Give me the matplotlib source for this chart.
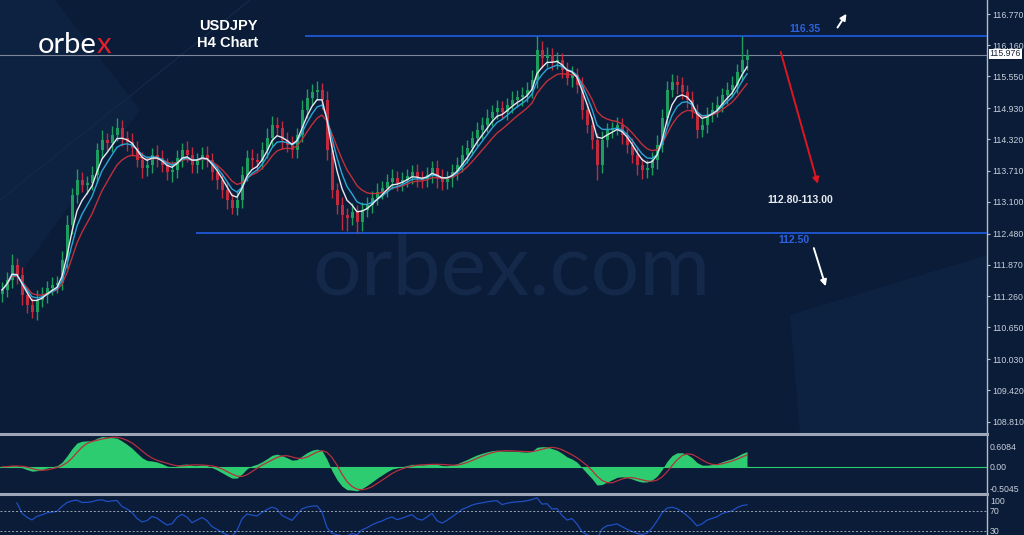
import matplotlib
matplotlib.use("Agg")
import matplotlib.pyplot as plt
from matplotlib.patches import Polygon
import numpy as np
import pandas as pd

# USDJPY H4 closes (one value every ~5 px)
closes = [111.38,111.57,111.87,111.67,111.28,111.09,110.95,111.18,111.28,111.42,
          111.48,111.52,111.97,112.65,113.23,113.53,113.43,113.47,113.63,114.11,
          114.31,114.25,114.41,114.54,114.35,114.27,114.15,113.92,113.76,113.82,
          114.02,113.96,113.82,113.68,113.72,113.96,114.11,114.02,113.82,113.92,
          114.02,113.92,113.68,113.53,113.33,113.14,112.98,113.14,113.63,113.96,
          113.92,113.88,114.11,114.35,114.60,114.54,114.31,114.21,114.11,114.41,
          114.90,115.13,115.25,115.29,115.09,114.11,113.33,113.04,112.84,112.79,
          112.90,112.71,112.94,113.04,113.18,113.29,113.37,113.49,113.57,113.47,
          113.53,113.61,113.68,113.57,113.53,113.63,113.76,113.57,113.49,113.57,
          113.68,113.82,114.02,114.15,114.35,114.50,114.60,114.74,114.86,114.93,
          114.86,114.99,115.09,115.15,115.19,115.29,115.48,116.07,115.91,115.97,
          115.83,115.87,115.68,115.52,115.58,115.38,114.90,114.60,114.31,113.82,
          114.31,114.50,114.54,114.60,114.41,114.21,114.02,113.82,113.72,113.76,
          113.92,114.21,114.74,115.29,115.44,115.38,115.25,115.09,114.86,114.50,
          114.60,114.80,114.90,114.99,115.19,115.29,115.38,115.64,115.87,115.97]
first_open = 111.30

wick_up = [0.15,0.17,0.21,0.13,0.16,0.12,0.14,0.19,0.15,0.13,
           0.16,0.14,0.17,0.19,0.15,0.22,0.16,0.14,0.18,0.15,
           0.20,0.13,0.17,0.19,0.16,0.14,0.18,0.13,0.15,0.17,
           0.14,0.19,0.15,0.13,0.17,0.16,0.14,0.18,0.15,0.13,
           0.16,0.17,0.14,0.15,0.13,0.16,0.14,0.19,0.17,0.15,
           0.18,0.13,0.16,0.20,0.17,0.15,0.14,0.16,0.18,0.13,
           0.19,0.17,0.15,0.18,0.14,0.17,0.16,0.13,0.15,0.14,
           0.17,0.13,0.16,0.15,0.14,0.18,0.13,0.15,0.17,0.14,
           0.16,0.13,0.15,0.17,0.14,0.16,0.13,0.15,0.18,0.14,
           0.17,0.15,0.19,0.16,0.14,0.17,0.15,0.18,0.13,0.16,
           0.15,0.14,0.17,0.13,0.16,0.15,0.19,0.28,0.17,0.15,
           0.14,0.16,0.13,0.15,0.17,0.14,0.16,0.13,0.15,0.14,
           0.17,0.15,0.13,0.16,0.14,0.15,0.13,0.17,0.14,0.15,
           0.16,0.19,0.17,0.18,0.15,0.14,0.16,0.13,0.17,0.15,
           0.14,0.16,0.15,0.17,0.14,0.16,0.18,0.15,0.48,0.12]

wick_dn = [0.16,0.14,0.15,0.17,0.19,0.16,0.12,0.15,0.14,0.16,
           0.13,0.15,0.14,0.16,0.18,0.15,0.14,0.17,0.13,0.16,
           0.15,0.14,0.17,0.13,0.16,0.18,0.15,0.14,0.19,0.16,
           0.15,0.17,0.14,0.16,0.19,0.15,0.17,0.14,0.16,0.15,
           0.17,0.14,0.16,0.18,0.15,0.17,0.12,0.14,0.16,0.13,
           0.15,0.17,0.14,0.16,0.15,0.13,0.17,0.14,0.16,0.15,
           0.14,0.16,0.13,0.15,0.17,0.19,0.15,0.17,0.29,0.26,
           0.15,0.21,0.17,0.14,0.16,0.15,0.13,0.17,0.14,0.16,
           0.15,0.14,0.16,0.17,0.15,0.13,0.16,0.19,0.15,0.14,
           0.17,0.15,0.13,0.16,0.14,0.15,0.17,0.13,0.16,0.15,
           0.14,0.16,0.15,0.13,0.17,0.14,0.16,0.15,0.19,0.17,
           0.15,0.13,0.16,0.14,0.17,0.15,0.19,0.16,0.17,0.30,
           0.15,0.14,0.16,0.13,0.17,0.15,0.16,0.20,0.18,0.15,
           0.14,0.17,0.13,0.16,0.15,0.17,0.14,0.16,0.13,0.15,
           0.14,0.16,0.13,0.15,0.14,0.17,0.15,0.16,0.17,0.19]

price_ticks = [116.770,116.160,115.550,114.930,114.320,113.710,113.100,
               112.480,111.870,111.260,110.650,110.030,109.420,108.810]
resistance = 116.35
support = 112.50
last_price = 115.976
macd_labels = ["0.6084", "0.00", "-0.5045"]
rsi_levels = [70, 30]

BG = "#0a1c38"
LBL = "#c8cfda"
W, H = 1024, 535
PX = 5.0  # pixels per candle

df = pd.DataFrame({"close": closes})
df["open"] = df["close"].shift(1).fillna(first_open)
df["high"] = df[["open", "close"]].max(axis=1) + np.array(wick_up)
df["low"] = df[["open", "close"]].min(axis=1) - np.array(wick_dn)
x = np.arange(len(df))

fig = plt.figure(figsize=(W / 100, H / 100), dpi=100, facecolor=BG)

# faint background shapes
bg = fig.add_axes([0, 0, 1, 1], zorder=-5)
bg.set_xlim(0, W); bg.set_ylim(H, 0); bg.axis("off")
bg.add_patch(Polygon([(0, 0), (55, 0), (140, 110), (15, 280), (0, 280)], closed=True,
                     fc="#0d2140", ec="none"))
bg.add_patch(Polygon([(790, 315), (987, 255), (987, 433), (800, 433)], closed=True,
                     fc="#0d2141", ec="none"))
bg.plot([0, 250], [200, 0], color="#12274a", lw=1.0)

# main price panel
ax = fig.add_axes([0, 1 - 433 / H, 987 / W, 433 / H], facecolor="none")
ax.set_xlim(-2 / PX, 987 / PX - 2 / PX)
ax.set_ylim(116.77 - 419 / 51.2, 116.77 + 14 / 51.2)

ax.text(102, 111.77, "orbex.com", color="#14284a", fontsize=62, family="Lato",
        ha="center", va="center", zorder=0)

up = df["close"] >= df["open"]
colors = np.where(up, "#1e9e5e", "#c42a3d")
ax.vlines(x, df["low"], df["high"], colors=colors, lw=1.0, zorder=2)
ax.bar(x, (df["close"] - df["open"]).abs().clip(lower=0.03),
       bottom=df[["open", "close"]].min(axis=1), width=0.6, color=colors, zorder=2)

ma_fast = df["close"].ewm(span=4).mean()
ma_mid = df["close"].ewm(span=6).mean()
ma_slow = df["close"].ewm(span=10).mean()
ax.plot(x, ma_slow, color="#c0303a", lw=1.0, zorder=3)
ax.plot(x, ma_mid, color="#2aa6d6", lw=1.0, zorder=3)
ax.plot(x, ma_fast, color="#e6e9f0", lw=1.0, zorder=4)

ax.axhline(last_price, color="#7e889a", lw=0.8, zorder=1)
ax.hlines(resistance, 303 / PX, 987 / PX, color="#2057d6", lw=1.3, zorder=1)
ax.hlines(support, 194 / PX, 987 / PX, color="#2057d6", lw=1.3, zorder=1)

ax.text(160.5, 116.47, "116.35", color="#2c62e0", fontsize=7.5, fontweight="bold",
        ha="center", va="center", family="Liberation Sans")
ax.text(158.3, 112.35, "112.50", color="#2c62e0", fontsize=7.5, fontweight="bold",
        ha="center", va="center", family="Liberation Sans")
ax.text(159.6, 113.14, "112.80-113.00", color="#e8ebf0", fontsize=7.5, fontweight="bold",
        ha="center", va="center", family="Liberation Sans")

arrow = dict(arrowstyle="-|>", lw=1.4, mutation_scale=9)
ax.annotate("", xy=(169.2, 116.82), xytext=(166.8, 116.46),
            arrowprops=dict(arrow, color="white"))
ax.annotate("", xy=(163.3, 113.40), xytext=(155.6, 116.08),
            arrowprops=dict(arrow, color="#e0161e"))
ax.annotate("", xy=(164.9, 111.40), xytext=(162.2, 112.25),
            arrowprops=dict(arrow, color="white"))

ax.yaxis.tick_right()
ax.set_yticks(price_ticks)
ax.set_yticklabels([f"{t:.3f}" for t in price_ticks], family="Liberation Sans")
ax.tick_params(axis="y", colors="#b8c0cc", labelcolor=LBL, labelsize=6.3,
               length=2, pad=1.5)
ax.set_xticks([])
for s in ax.spines.values():
    s.set_visible(False)

# MACD panel
macd = df["close"].ewm(span=6).mean() - df["close"].ewm(span=13).mean()
signal = macd.rolling(4, min_periods=1).mean()
ax2 = fig.add_axes([0, 1 - 492 / H, 987 / W, 57 / H], facecolor="none")
ax2.set_xlim(ax.get_xlim())
lo, hi = macd.min(), macd.max()
ax2.set_ylim(lo * 1.05, hi * 1.05)
ax2.fill_between(x, 0, macd, color="#2ecc71", lw=0)
ax2.axhline(0, color="#2ecc71", lw=0.8)
ax2.plot(x, signal, color="#b5303c", lw=0.9)
ax2.axis("off")

# RSI panel (bottom part is cut off as in the screenshot)
delta = df["close"].diff()
gain = delta.clip(lower=0).ewm(alpha=1 / 7, adjust=False).mean()
loss = (-delta.clip(upper=0)).ewm(alpha=1 / 7, adjust=False).mean()
rsi = 100 - 100 / (1 + gain / loss.replace(0, np.nan))
ax3 = fig.add_axes([0, 1 - 546 / H, 987 / W, 50 / H], facecolor="none")
ax3.set_xlim(ax.get_xlim())
ax3.set_ylim(0, 100)
ax3.plot(x, rsi, color="#1f4fc4", lw=0.9)
for lvl in rsi_levels:
    ax3.axhline(lvl, color="#9aa4b4", lw=0.7, ls=(0, (2, 2)))
ax3.axis("off")

# frame lines on the figure
bg.plot([987, 987], [0, H], color="#b4bcc8", lw=1.0)
bg.plot([0, 987], [434, 434], color="#9ea7b7", lw=2.2)
bg.plot([0, 987], [494, 494], color="#9ea7b7", lw=2.2)

def ftext(px, py, s, **kw):
    return fig.text(px / W, 1 - py / H, s, **kw)

for py, s in zip([447, 467, 489], macd_labels):
    ftext(990, py, s, color=LBL, fontsize=6.3, va="center", family="Liberation Sans")
for py, s in zip([501, 511, 531], ["100", "70", "30"]):
    ftext(990, py, s, color=LBL, fontsize=6.3, va="center", family="Liberation Sans")
ftext(989.5, 54, f"{last_price:.3f}", color="#1a2538", fontsize=6.3, va="center",
      family="Liberation Sans", bbox=dict(fc="white", ec="none", pad=0.5))

# logo and title
logo = ftext(38, 53, "orbe", color="white", fontsize=21, family="Lato", va="baseline")
r = fig.canvas.get_renderer()
bb = logo.get_window_extent(renderer=r)
fig.text(bb.x1 / (W * fig.dpi / 100), 1 - 53 / H, "x", color="#e3202f", fontsize=21,
         family="Lato", va="baseline")
ftext(228, 26, "USDJPY", color="white", fontsize=10.5, fontweight="bold",
      ha="center", va="center", family="Liberation Sans")
ftext(228, 43, "H4 Chart", color="white", fontsize=10.5, fontweight="bold",
      ha="center", va="center", family="Liberation Sans")

fig.savefig("out.png", dpi=100, facecolor=BG)
